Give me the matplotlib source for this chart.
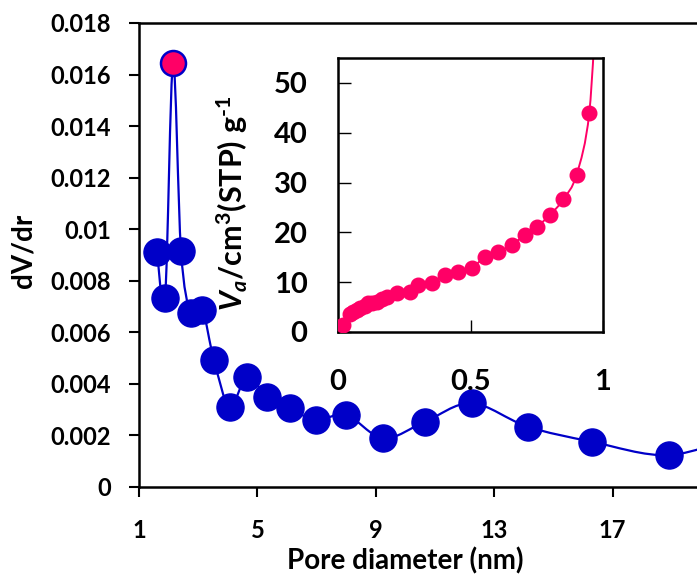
import numpy as np
import matplotlib
matplotlib.use("Agg")
import matplotlib.pyplot as plt
from matplotlib.path import Path
from matplotlib.patches import PathPatch

# ---- data: main pore size distribution ----
pore_d = [1.61, 1.88, 2.15, 2.42, 2.75, 3.14, 3.53, 4.06, 4.66, 5.33, 6.10,
          6.97, 8.00, 9.26, 10.66, 12.24, 14.13, 16.29, 18.92, 21.5]
dvdr = [0.00912, 0.00732, 0.01645, 0.00915, 0.00674, 0.00687, 0.00493,
        0.00312, 0.00428, 0.00350, 0.00305, 0.00260, 0.00279, 0.00189,
        0.00253, 0.00325, 0.00234, 0.00176, 0.00124, 0.00210]
peak_index = 2

# ---- data: inset isotherm ----
p_rel = [0.02, 0.045, 0.058, 0.07, 0.083, 0.10, 0.114, 0.13, 0.146, 0.165,
         0.184, 0.221, 0.272, 0.303, 0.353, 0.404, 0.454, 0.504, 0.555,
         0.605, 0.655, 0.706, 0.750, 0.800, 0.850, 0.900, 0.948, 0.978]
v_ads = [1.4, 3.6, 4.1, 4.5, 4.8, 5.3, 5.8, 5.9, 6.1, 6.6, 7.1, 7.8, 8.1,
         9.4, 9.8, 11.4, 12.1, 12.8, 15.1, 16.1, 17.5, 19.5, 21.1, 23.5,
         26.6, 31.5, 43.9, 70.0]

main_xticks = [1, 5, 9, 13, 17]
main_yticks = [0, 0.002, 0.004, 0.006, 0.008, 0.01, 0.012, 0.014, 0.016, 0.018]
main_yticklabels = ["0", "0.002", "0.004", "0.006", "0.008", "0.01",
                    "0.012", "0.014", "0.016", "0.018"]
inset_xticks = [0, 0.5, 1]
inset_xticklabels = ["0", "0.5", "1"]
inset_yticks = [0, 10, 20, 30, 40, 50]

BLUE = "#0000C8"
RED = "#FF0066"

plt.rcParams["font.family"] = ["Lato", "DejaVu Sans"]
plt.rcParams["font.weight"] = "bold"
plt.rcParams["mathtext.fontset"] = "custom"
plt.rcParams["mathtext.rm"] = "Lato:bold"
plt.rcParams["mathtext.it"] = "Lato:italic:bold"
plt.rcParams["mathtext.bf"] = "Lato:bold"


def smooth_path(xs, ys, t=1.0 / 6.0):
    pts = np.column_stack([xs, ys]).astype(float)
    n = len(pts)
    verts = [tuple(pts[0])]
    codes = [Path.MOVETO]
    for i in range(n - 1):
        p0 = pts[i - 1] if i > 0 else pts[i]
        p1 = pts[i]
        p2 = pts[i + 1]
        p3 = pts[i + 2] if i + 2 < n else pts[i + 1]
        c1 = p1 + (p2 - p0) * t
        c2 = p2 - (p3 - p1) * t
        verts += [tuple(c1), tuple(c2), tuple(p2)]
        codes += [Path.CURVE4] * 3
    return Path(verts, codes)


fig = plt.figure(figsize=(6.97, 5.79), dpi=100)
ax = fig.add_axes([139 / 697, 1 - 487 / 579, 1 - 139 / 697, (487 - 23) / 579])

ax.add_patch(PathPatch(smooth_path(pore_d, dvdr), fill=False,
                       edgecolor=BLUE, lw=1.6, zorder=2))
others = [i for i in range(len(pore_d)) if i != peak_index]
ax.plot([pore_d[i] for i in others], [dvdr[i] for i in others], "o",
        ms=19.5, color=BLUE, mec=BLUE, zorder=3, clip_on=True)
ax.plot([pore_d[peak_index]], [dvdr[peak_index]], "o", ms=18,
        mfc=RED, mec=BLUE, mew=1.8, zorder=4)

ax.set_xlim(1, 1 + 558 / 29.6)
ax.set_ylim(0, 0.018)
ax.set_xticks(main_xticks)
ax.set_yticks(main_yticks)
ax.set_yticklabels(main_yticklabels)
ax.tick_params(axis="both", direction="out", length=7, width=1.5,
               labelsize=17, pad=13)
ax.tick_params(axis="x", pad=16)
for s in ["left", "bottom", "top"]:
    ax.spines[s].set_linewidth(1.8)
ax.spines["right"].set_visible(False)
ax.set_xlabel("Pore diameter (nm)", fontsize=20, fontweight="bold")
ax.set_ylabel("dV/dr", fontsize=20, fontweight="bold")
ax.xaxis.set_label_coords((405 - 139) / 558, -(547 - 487) / 464)
ax.yaxis.set_label_coords(-(139 - 37) / 558, (487 - 251) / 464)

# ---- inset ----
ins = fig.add_axes([338 / 697, 1 - 332 / 579, (603 - 338) / 697, (332 - 58) / 579])
ins.add_patch(PathPatch(smooth_path(p_rel, v_ads), fill=False,
                        edgecolor=RED, lw=1.4, zorder=2))
ins.plot(p_rel, v_ads, "o", ms=10.5, color=RED, zorder=3)
ins.set_xlim(0, 1)
ins.set_ylim(0, 55)
ins.set_xticks(inset_xticks)
ins.set_xticklabels(inset_xticklabels)
ins.set_yticks(inset_yticks)
ins.tick_params(axis="both", direction="in", length=9, width=1.0,
                labelsize=21)
ins.tick_params(axis="y", pad=22)
ins.tick_params(axis="x", pad=27)
for s in ins.spines.values():
    s.set_linewidth(1.8)
ins.set_ylabel(r"$V_a\mathrm{/cm^3(STP)\ g^{\text{-}1}}$", fontsize=22)
ins.yaxis.set_label_coords(-(338 - 250) / 265, (332 - 203) / 274)

fig.savefig("out.png", dpi=100)
